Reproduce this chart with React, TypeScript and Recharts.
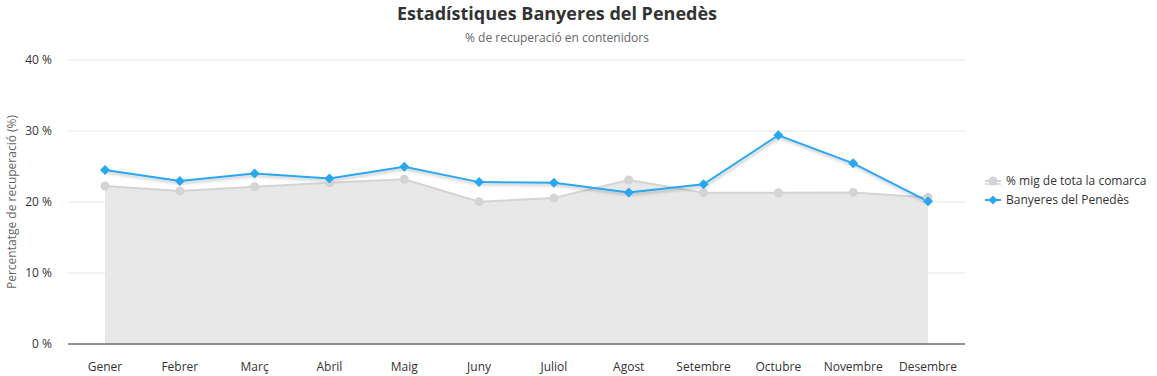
import React from 'react';
import { ComposedChart, Area, Line, XAxis, YAxis, CartesianGrid } from 'recharts';

const months = ['Gener', 'Febrer', 'Març', 'Abril', 'Maig', 'Juny', 'Juliol', 'Agost', 'Setembre', 'Octubre', 'Novembre', 'Desembre'];
const comarca = [22.25, 21.55, 22.15, 22.7, 23.2, 20.05, 20.55, 23.1, 21.3, 21.3, 21.35, 20.65];
const banyeres = [24.5, 22.95, 24.0, 23.3, 24.95, 22.8, 22.7, 21.35, 22.5, 29.4, 25.45, 20.1];
const yTicks = [0, 10, 20, 30, 40];

const data = months.map((m, i) => ({ month: m, comarca: comarca[i], banyeres: banyeres[i] }));

const FONT = '"Open Sans", "Noto Sans", sans-serif';

const Diamond = (props: any) => {
  const { cx, cy } = props;
  if (cx == null || cy == null) return null;
  const r = 5;
  return (
    <path
      d={`M${cx},${cy - r} L${cx + r},${cy} L${cx},${cy + r} L${cx - r},${cy} Z`}
      fill="#2aa7f2"
    />
  );
};

export default function App() {
  return (
    <div style={{ position: 'absolute', left: 0, top: 0, width: 1157, height: 376, fontFamily: FONT, background: '#fff', overflow: 'hidden' }}>
      <ComposedChart width={1157} height={376} data={data} margin={{ top: 60, right: 192, left: 0, bottom: 0 }}>
        <defs>
          <filter id="shadow" x="-10%" y="-50%" width="120%" height="200%">
            <feDropShadow dx="1" dy="2" stdDeviation="1.5" floodColor="#000" floodOpacity="0.25" />
          </filter>
        </defs>
        <CartesianGrid vertical={false} stroke="#e6e6e6" />
        <XAxis
          dataKey="month"
          padding={{ left: 37, right: 37 }}
          height={32}
          tickLine={false}
          tickSize={0}
          tickMargin={18}
          axisLine={{ stroke: '#333' }}
          tick={{ fill: '#333', fontSize: 12, fontFamily: FONT }}
          interval={0}
        />
        <YAxis
          domain={[0, 40]}
          ticks={yTicks}
          width={68}
          axisLine={false}
          tickLine={false}
          tickSize={0}
          tickMargin={16}
          tickFormatter={(v: number) => `${v} %`}
          tick={{ fill: '#333', fontSize: 12, fontFamily: FONT }}
          label={{ value: 'Percentatge de recuperació (%)', angle: -90, position: 'center', dx: -22, fill: '#666', fontSize: 12, fontFamily: FONT }}
        />
        <Area
          type="linear"
          dataKey="comarca"
          stroke="#d4d4d4"
          strokeWidth={2}
          fill="#e8e8e8"
          fillOpacity={1}
          dot={{ r: 4.5, fill: '#d4d4d4', stroke: 'none' }}
          activeDot={false}
          isAnimationActive={false}
        />
        <Line
          type="linear"
          dataKey="banyeres"
          stroke="#2aa7f2"
          strokeWidth={2}
          dot={<Diamond />}
          activeDot={false}
          style={{ filter: 'url(#shadow)' }}
          isAnimationActive={false}
        />
      </ComposedChart>
      <div style={{ position: 'absolute', left: 357, width: 400, top: 1, textAlign: 'center', fontSize: 18, fontWeight: 700, color: '#333', lineHeight: '24px' }}>
        Estadístiques Banyeres del Penedès
      </div>
      <div style={{ position: 'absolute', left: 357, width: 400, top: 30, textAlign: 'center', fontSize: 12, color: '#666', lineHeight: '16px' }}>
        % de recuperació en contenidors
      </div>
      <div style={{ position: 'absolute', left: 984, top: 171, fontSize: 12, color: '#333', lineHeight: '19px' }}>
        <div style={{ display: 'flex', alignItems: 'center' }}>
          <svg width={18} height={12} style={{ marginRight: 4 }}>
            <path d="M1,8 L17,8 L17,10 L1,10 Z" fill="#e0e0e0" />
            <line x1={1} y1={6} x2={17} y2={6} stroke="#d4d4d4" strokeWidth={2} />
            <circle cx={9} cy={6} r={4.5} fill="#d4d4d4" />
          </svg>
          % mig de tota la comarca
        </div>
        <div style={{ display: 'flex', alignItems: 'center' }}>
          <svg width={18} height={12} style={{ marginRight: 4 }}>
            <line x1={1} y1={6} x2={17} y2={6} stroke="#2aa7f2" strokeWidth={2} />
            <path d="M9,1.5 L13.5,6 L9,10.5 L4.5,6 Z" fill="#2aa7f2" />
          </svg>
          Banyeres del Penedès
        </div>
      </div>
    </div>
  );
}
